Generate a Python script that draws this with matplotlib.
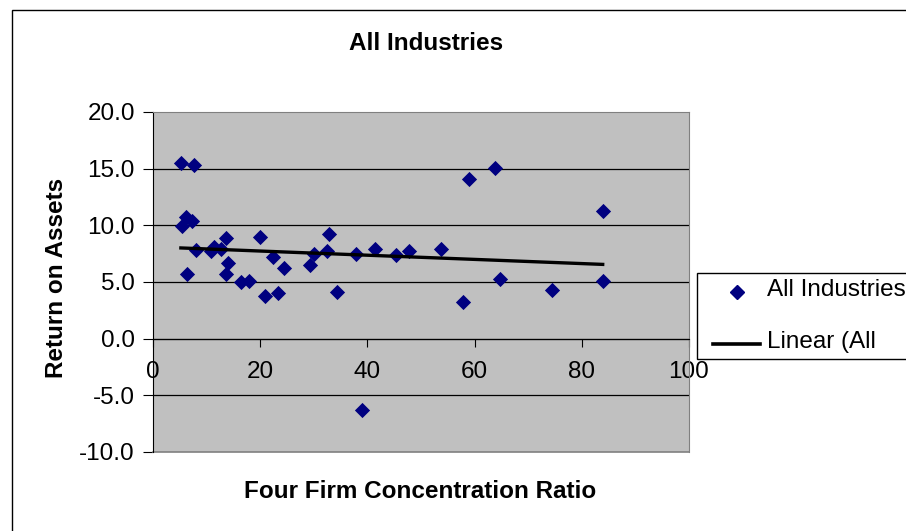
import matplotlib
matplotlib.use("Agg")
import matplotlib.pyplot as plt
import numpy as np
from matplotlib.patches import Rectangle
from matplotlib.lines import Line2D

plt.rcParams["font.family"] = ["Liberation Sans", "DejaVu Sans"]

# four firm concentration ratio (x) and return on assets (y)
conc_ratio = [5.2, 7.6, 6.1, 5.5, 7.3, 8.0, 6.3, 10.9, 11.4, 12.7, 13.7, 13.9, 13.7,
              16.4, 17.9, 19.9, 20.9, 22.4, 23.4, 24.4, 29.3, 30.1, 32.9, 32.5, 34.3,
              37.8, 41.4, 45.3, 47.7, 53.7, 57.9, 58.9, 63.8, 64.7, 74.4, 83.9, 83.9, 38.9]
roa = [15.5, 15.3, 10.7, 9.9, 10.4, 7.8, 5.7, 7.7, 8.1, 7.9, 8.9, 6.7, 5.7,
       5.0, 5.1, 9.0, 3.8, 7.2, 4.0, 6.2, 6.5, 7.5, 9.2, 7.7, 4.1,
       7.5, 7.9, 7.4, 7.7, 7.9, 3.2, 14.1, 15.1, 5.3, 4.3, 11.3, 5.1, -6.3]

x_ticks = [0, 20, 40, 60, 80, 100]
y_ticks = [-10, -5, 0, 5, 10, 15, 20]
y_tick_labels = ["-10.0", "-5.0", "0.0", "5.0", "10.0", "15.0", "20.0"]

W, H = 906, 531
FS = 17.5
fig = plt.figure(figsize=(W / 100, H / 100), dpi=100)

# outer chart border
fig.patches.append(Rectangle((12 / W, -0.05), 2.0, (H - 10) / H + 0.05, transform=fig.transFigure,
                             fill=False, edgecolor="black", linewidth=1.0))

ax = fig.add_axes([153 / W, (H - 452) / H, 536 / W, 340 / H])
ax.set_facecolor("#c0c0c0")
ax.set_xlim(0, 100)
ax.set_ylim(-10, 20)

for y in y_ticks[1:-1]:
    ax.axhline(y, color="black", linewidth=0.9, zorder=1)

ax.scatter(conc_ratio, roa, marker="D", s=60, color="#000080", linewidths=0, zorder=3)

# linear trendline through the points
slope, intercept = np.polyfit(conc_ratio, roa, 1)
xs = np.array([min(conc_ratio), max(conc_ratio)])
ax.plot(xs, slope * xs + intercept, color="black", linewidth=2.4, zorder=4)

ax.spines["bottom"].set_position(("data", 0))
ax.spines["bottom"].set_color("black")
ax.spines["left"].set_color("black")
ax.spines["top"].set_color("#808080")
ax.spines["right"].set_color("#808080")
ax.plot([0, 1], [0, 0], transform=ax.transAxes, color="#808080", linewidth=1.2, clip_on=False)

ax.set_xticks(x_ticks)
ax.set_yticks(y_ticks)
ax.set_yticklabels(y_tick_labels)
ax.tick_params(axis="x", direction="out", length=6, pad=10, labelsize=FS, color="black")
ax.tick_params(axis="y", direction="out", length=7, pad=6, labelsize=FS, color="black")

fig.text(426 / W, 1 - 43 / H, "All Industries", ha="center", va="center",
         fontsize=FS, fontweight="bold")
fig.text(420 / W, 1 - 492 / H, "Four Firm Concentration Ratio", ha="center", va="center",
         fontsize=FS, fontweight="bold")
fig.text(57 / W, 1 - 278 / H, "Return on Assets", ha="center", va="center",
         rotation=90, fontsize=FS, fontweight="bold")

# legend box, running off the right edge like the original
fig.patches.append(Rectangle((697 / W, 1 - 359 / H), 0.5, 86 / H, transform=fig.transFigure,
                             fill=True, facecolor="white", edgecolor="black", linewidth=1.0,
                             zorder=5))
fig.lines.append(Line2D([737 / W], [1 - 292 / H], transform=fig.transFigure, marker="D",
                        markersize=7, color="#000080", linestyle="none", zorder=6))
fig.lines.append(Line2D([713 / W, 760 / W], [1 - 344 / H, 1 - 344 / H], transform=fig.transFigure,
                        color="black", linewidth=2.6, zorder=6))
fig.text(767 / W, 1 - 290 / H, "All Industries", ha="left", va="center", fontsize=FS, zorder=7)
fig.text(767 / W, 1 - 342 / H, "Linear (All", ha="left", va="center", fontsize=FS, zorder=7)

fig.savefig("out.png", dpi=100)
